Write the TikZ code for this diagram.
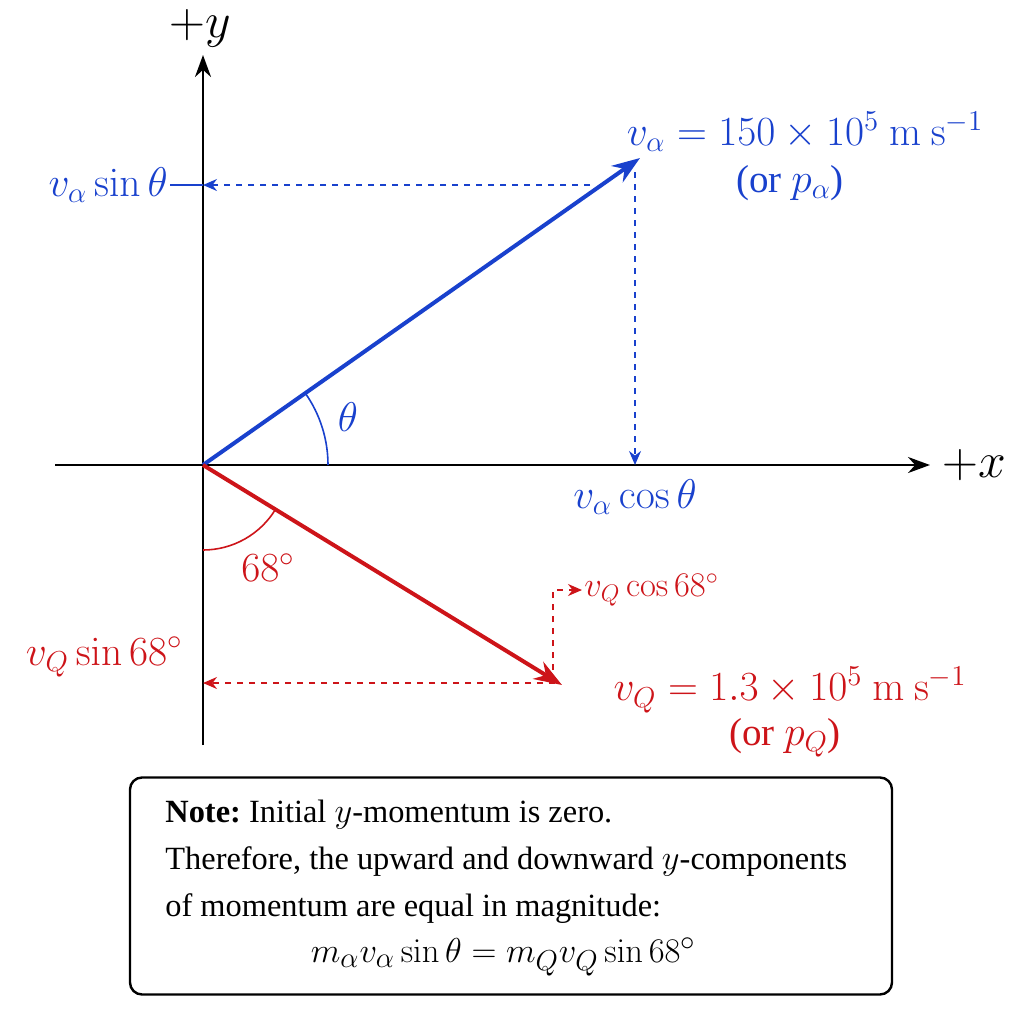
\documentclass[tikz,border=0pt]{standalone}
\usepackage{amsmath}
\usepackage[no-math]{fontspec}
\setmainfont{Liberation Serif}
\usepackage{tikz}
\usepackage{xcolor}
\usetikzlibrary{arrows.meta, positioning}

\definecolor{alphablue}{RGB}{25,65,205}
\definecolor{qred}{RGB}{205,20,25}

\begin{document}
\begin{tikzpicture}[x=0.5pt, y=0.5pt]

    % Define style for different elements
    \tikzstyle{axis} = [line width=1.3pt, -{Stealth[length=11pt, width=8pt]}]
    \tikzstyle{vecblue} = [alphablue, line width=2pt, -{Stealth[length=14pt, width=10pt]}]
    \tikzstyle{vecred} = [qred, line width=2pt, -{Stealth[length=14pt, width=10pt]}]
    \tikzstyle{bluedash} = [alphablue, line width=0.8pt, dashed, -{Stealth[length=7pt, width=6pt]}]
    \tikzstyle{reddash} = [qred, line width=0.8pt, dashed, -{Stealth[length=7pt, width=6pt]}]
    \tikzstyle{lbl} = [font=\rmfamily\fontsize{19.5}{24}\selectfont, inner sep=1pt]
    \tikzstyle{axislbl} = [font=\fontsize{23}{26}\selectfont, inner sep=1pt]
    \tikzstyle{notebox} = [draw=black, line width=1.2pt, rounded corners=6pt, minimum width=381pt, minimum height=108.5pt]

    \useasboundingbox (0,0) rectangle (1024,-1024);

    % Place nodes
    \coordinate (origin) at (203,-465);
    \coordinate (ybot) at (203,-745);
    \coordinate (ytop) at (203,-55);
    \coordinate (xleft) at (55,-465);
    \coordinate (xright) at (930,-465);
    \coordinate (atip) at (640,-158);
    \coordinate (qtip) at (562,-685);
    \coordinate (aH) at (590,-185);
    \coordinate (ysin) at (203,-185);
    \coordinate (aV) at (635,-172);
    \coordinate (xcos) at (635,-465);
    \coordinate (qH) at (555,-683);
    \coordinate (qsin) at (203,-683);
    \coordinate (qV) at (553,-670);

    \node (ylabel) [axislbl] at (200,-28) {$+y$};
    \node (xlabel) [axislbl, anchor=west] at (940,-465) {$+x$};

    \node (asin) [lbl, alphablue, anchor=east] at (170,-185) {$v_\alpha \sin\theta$};
    \node (acos) [lbl, alphablue] at (635,-497) {$v_\alpha \cos\theta$};
    \node (theta) [lbl, alphablue] at (348,-417) {$\theta$};
    \node (avel) [lbl, alphablue] at (805,-132) {$v_\alpha = 150 \times 10^5\ \mathrm{m\ s^{-1}}$};
    \node (apmom) [lbl, alphablue] at (790,-183) {(or $p_\alpha$)};

    \node (angq) [lbl, qred] at (268,-568) {$68^\circ$};
    \node (qsinl) [lbl, qred, anchor=east] at (185,-657) {$v_Q \sin 68^\circ$};
    \node (qcos) [lbl, qred, anchor=west, font=\fontsize{17}{20}\selectfont] at (582,-590) {$v_Q \cos 68^\circ$};
    \node (qvel) [lbl, qred] at (790,-690) {$v_Q = 1.3 \times 10^5\ \mathrm{m\ s^{-1}}$};
    \node (qpmom) [lbl, qred] at (785,-738) {(or $p_Q$)};

    \node (note) [notebox] at (511,-886) {};
    \node (notetext) [anchor=north west, align=left, inner sep=0pt,
        font=\rmfamily\fontsize{16.2}{23.3}\selectfont] at (165,-800)
        {\textbf{Note:}\ Initial $y$-momentum is zero.\\
         Therefore, the upward and downward $y$-components\\
         of momentum are equal in magnitude:\\
         \makebox[338pt][c]{\fontsize{19}{23.3}\selectfont$m_\alpha v_\alpha \sin\theta = m_Q v_Q \sin 68^\circ$}};

    % Draw arrows
    \draw [axis] (ybot) -- (ytop);
    \draw [axis] (xleft) -- (xright);
    \draw [vecblue] (origin) -- (atip);
    \draw [vecred] (origin) -- (qtip);
    \draw [bluedash] (aH) -- (ysin);
    \draw [alphablue, line width=0.8pt] (asin.east) -- (ysin);
    \draw [bluedash] (aV) -- (xcos);
    \draw [reddash] (qH) -- (qsin);
    \draw [reddash] (qV) |- (qcos.west);

    % Angle arcs
    \draw [alphablue, line width=0.8pt] (328,-465) arc[start angle=0, end angle=35, radius=125];
    \draw [qred, line width=0.8pt] (203,-550) arc[start angle=-90, end angle=-31.4, radius=85];

\end{tikzpicture}
\end{document}
